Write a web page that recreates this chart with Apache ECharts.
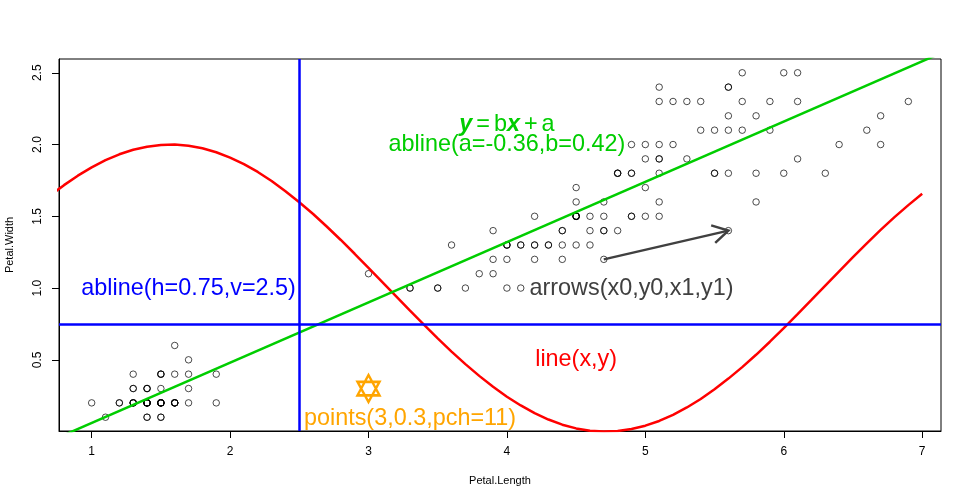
<!DOCTYPE html>
<html><head><meta charset="utf-8">
<script src="https://cdn.jsdelivr.net/npm/echarts@6/dist/echarts.min.js"></script>
<style>html,body{margin:0;padding:0;background:#fff}#c{width:972px;height:504px}</style>
</head><body><div id="c"></div>
<script>
// iris Petal.Length / Petal.Width
const petalLength = [
1.4,1.4,1.3,1.5,1.4,1.7,1.4,1.5,1.4,1.5,1.5,1.6,1.4,1.1,1.2,1.5,1.3,1.4,1.7,1.5,
1.7,1.5,1.0,1.7,1.9,1.6,1.6,1.5,1.4,1.6,1.6,1.5,1.5,1.4,1.5,1.2,1.3,1.4,1.3,1.5,
1.3,1.3,1.3,1.6,1.9,1.4,1.6,1.4,1.5,1.4,
4.7,4.5,4.9,4.0,4.6,4.5,4.7,3.3,4.6,3.9,3.5,4.2,4.0,4.7,3.6,4.4,4.5,4.1,4.5,3.9,
4.8,4.0,4.9,4.7,4.3,4.4,4.8,5.0,4.5,3.5,3.8,3.7,3.9,5.1,4.5,4.5,4.7,4.4,4.1,4.0,
4.4,4.6,4.0,3.3,4.2,4.2,4.2,4.3,3.0,4.1,
6.0,5.1,5.9,5.6,5.8,6.6,4.5,6.3,5.8,6.1,5.1,5.3,5.5,5.0,5.1,5.3,5.5,6.7,6.9,5.0,
5.7,4.9,6.7,4.9,5.7,6.0,4.8,4.9,5.6,5.8,6.1,6.4,5.6,5.1,5.6,6.1,5.6,5.5,4.8,5.4,
5.6,5.1,5.1,5.9,5.7,5.2,5.0,5.2,5.4,5.1];
const petalWidth = [
0.2,0.2,0.2,0.2,0.2,0.4,0.3,0.2,0.2,0.1,0.2,0.2,0.1,0.1,0.2,0.4,0.4,0.3,0.3,0.3,
0.2,0.4,0.2,0.5,0.2,0.2,0.4,0.2,0.2,0.2,0.2,0.4,0.1,0.2,0.2,0.2,0.2,0.1,0.2,0.2,
0.3,0.3,0.2,0.6,0.4,0.3,0.2,0.2,0.2,0.2,
1.4,1.5,1.5,1.3,1.5,1.3,1.6,1.0,1.3,1.4,1.0,1.5,1.0,1.4,1.3,1.4,1.5,1.0,1.5,1.1,
1.8,1.3,1.5,1.2,1.3,1.4,1.4,1.7,1.5,1.0,1.1,1.0,1.2,1.6,1.5,1.6,1.5,1.3,1.3,1.3,
1.2,1.4,1.2,1.0,1.3,1.2,1.3,1.3,1.1,1.3,
2.5,1.9,2.1,1.8,2.2,2.1,1.7,1.8,1.8,2.5,2.0,1.9,2.1,2.0,2.4,2.3,1.8,2.2,2.3,1.5,
2.3,2.0,2.0,1.8,2.1,1.8,1.8,1.8,2.1,1.6,1.9,2.0,2.2,1.5,1.4,2.3,2.4,1.8,1.8,2.1,
2.4,2.3,1.9,2.3,2.5,2.3,1.9,2.0,2.3,1.8];

// red curve
const curveX = [0.7,0.8,0.9,1.0,1.1,1.2,1.3,1.4,1.5,1.6,1.7,1.8,1.9,2.0,2.1,2.2,2.3,2.4,2.5,2.6,
2.7,2.8,2.9,3.0,3.1,3.2,3.3,3.4,3.5,3.6,3.7,3.8,3.9,4.0,4.1,4.2,4.3,4.4,4.5,4.6,
4.7,4.8,4.9,5.0,5.1,5.2,5.3,5.4,5.5,5.6,5.7,5.8,5.9,6.0,6.1,6.2,6.3,6.4,6.5,6.6,
6.7,6.8,6.9,7.0];
const curveY = [1.644,1.717,1.783,1.841,1.891,1.932,1.964,1.985,1.997,2.000,1.992,1.974,1.946,1.909,1.863,1.809,1.746,1.675,1.598,1.516,
1.427,1.335,1.239,1.141,1.042,0.942,0.842,0.745,0.649,0.557,0.470,0.388,0.312,0.243,0.182,0.128,0.084,0.048,0.022,0.006,
0.000,0.004,0.018,0.041,0.074,0.117,0.168,0.227,0.295,0.369,0.449,0.535,0.626,0.721,0.818,0.917,1.017,1.117,1.215,1.312,
1.405,1.494,1.578,1.657];

const xTicks = [1,2,3,4,5,6,7];
const yTicks = [0.5,1.0,1.5,2.0,2.5];
const xRange = [0.764, 7.136];
const yRange = [0.004, 2.596];
const hLine = 0.75, vLine = 2.5;
const ablineA = -0.36, ablineB = 0.42;
const arrowFrom = [4.7, 1.2], arrowTo = [5.6, 1.4];
const starPoint = [3, 0.3];

const noteText = ['abline(h=0.75,v=2.5)','arrows(x0,y0,x1,y1)','line(x,y)','points(3,0.3,pch=11)','abline(a=-0.36,b=0.42)'];
const noteX = [1.7, 4.9, 4.5, 3.3, 4.0];
const noteY = [1.0, 1.0, 0.5, 0.09, 2.0];
const noteColor = ['#0000FF','#404040','#FF0000','#FFA500','#00CD00'];
const formulaPos = [4.0, 2.14];

const FONT = 'Liberation Sans, Arial, Helvetica, sans-serif';
const FS = 23.4;
const chart = echarts.init(document.getElementById('c'), null, {renderer:'canvas'});

const pts = petalLength.map((v,i)=>[v, petalWidth[i]]);
const curve = curveX.map((v,i)=>[v, curveY[i]]);
const abl = xRange.map(x=>[x, ablineA + ablineB*x]);

const notes = noteText.map((t,i)=>({value:[noteX[i], noteY[i]], label:{formatter:t, color:noteColor[i]}}));
notes.push({value: formulaPos, label:{formatter:'{bi|y}{op|=}b{bi|x}{op|+}a', color:'#00CD00',
  rich:{bi:{fontWeight:'bold', fontStyle:'italic', fontSize:FS, color:'#00CD00', fontFamily:FONT},
        op:{fontSize:FS, color:'#00CD00', fontFamily:FONT, padding:[0,4,0,4]}}}});

chart.setOption({
  animation:false,
  backgroundColor:'#fff',
  grid:{left:59, right:31, top:59, bottom:73, outerBoundsMode:'none', containLabel:false,
    show:true, borderColor:'#000', borderWidth:1, backgroundColor:'transparent'},
  xAxis:{type:'value', min:xRange[0], max:xRange[1],
    name:'Petal.Length', nameLocation:'middle', nameGap:44,
    nameTextStyle:{fontFamily:FONT, fontSize:11, color:'#000'},
    axisLine:{show:true, onZero:false, lineStyle:{color:'#000', width:1}},
    axisTick:{show:true, length:7, customValues:xTicks, lineStyle:{color:'#000'}},
    axisLabel:{customValues:xTicks, margin:15, fontFamily:FONT, fontSize:12, color:'#000'},
    splitLine:{show:false}},
  yAxis:{type:'value', min:yRange[0], max:yRange[1],
    name:'Petal.Width', nameLocation:'middle', nameGap:44,
    nameTextStyle:{fontFamily:FONT, fontSize:11, color:'#000'},
    axisLine:{show:true, onZero:false, lineStyle:{color:'#000', width:1}},
    axisTick:{show:true, length:7, customValues:yTicks, lineStyle:{color:'#000'}},
    axisLabel:{customValues:yTicks, rotate:90, margin:15, fontFamily:FONT, fontSize:12, color:'#000',
      formatter:v=>v.toFixed(1)},
    splitLine:{show:false}},
  series:[
    {type:'scatter', data:pts, symbol:'circle', symbolSize:6.5, silent:true,
      itemStyle:{color:'transparent', borderColor:'#000', borderWidth:1, opacity:0.7}, z:2},
    {type:'line', data:curve, showSymbol:false, symbol:'none', clip:true,
      lineStyle:{color:'#FF0000', width:2.5}, z:3},
    {type:'line', data:abl, showSymbol:false, symbol:'none', clip:true,
      lineStyle:{color:'#00CD00', width:2.5}, z:3,
      markLine:{silent:true, symbol:'none', label:{show:false},
        lineStyle:{color:'#0000FF', width:2.5, type:'solid'},
        data:[{yAxis:hLine},{xAxis:vLine}]}},
    {type:'custom', z:4, silent:true,
      data:[[arrowFrom[0], arrowFrom[1], arrowTo[0], arrowTo[1]]],
      renderItem:function(params, api){
        const p0 = api.coord([api.value(0), api.value(1)]);
        const p1 = api.coord([api.value(2), api.value(3)]);
        const ang = Math.atan2(p1[1]-p0[1], p1[0]-p0[0]);
        const L = 18, a = Math.PI/6;
        const h1 = [p1[0]-L*Math.cos(ang-a), p1[1]-L*Math.sin(ang-a)];
        const h2 = [p1[0]-L*Math.cos(ang+a), p1[1]-L*Math.sin(ang+a)];
        const st = {stroke:'#404040', lineWidth:2.5, fill:null};
        return {type:'group', children:[
          {type:'line', shape:{x1:p0[0], y1:p0[1], x2:p1[0], y2:p1[1]}, style:st},
          {type:'polyline', shape:{points:[h1,p1,h2]}, style:st}
        ]};
      }},
    {type:'scatter', data:[starPoint], z:4, silent:true,
      symbol:'path://M0,-10L8.66,5L-8.66,5Z M0,10L8.66,-5L-8.66,-5Z', symbolSize:[22,27],
      itemStyle:{color:'transparent', borderColor:'#FFA500', borderWidth:2.5, opacity:1}},
    {type:'scatter', data:notes, symbolSize:1, z:5, silent:true,
      itemStyle:{color:'transparent', opacity:1},
      label:{show:true, position:'inside', fontFamily:FONT, fontSize:FS}}
  ]
});
</script></body></html>
